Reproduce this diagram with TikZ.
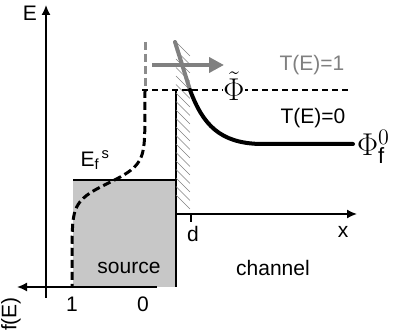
\documentclass[tikz,border=0pt]{standalone}
\usepackage{fix-cm}
\usepackage{fontspec}
\setmainfont{Liberation Sans}
\usetikzlibrary{arrows.meta,positioning}

\begin{document}
\begin{tikzpicture}[
  x=1pt, y=-1pt,
  font=\fontsize{21}{25}\selectfont,
  >=Latex,
  axis/.style={->, line width=1.6pt, >={Latex[length=10pt,width=9pt]}},
  edge/.style={line width=1.6pt},
  hatch/.style={line width=0.5pt, black!50},
  level/.style={line width=1.2pt, dash pattern=on 6pt off 4pt},
  fermi/.style={line width=3pt, dash pattern=on 8pt off 4pt},
  fermitop/.style={fermi, black!45},
  barrier/.style={line width=4pt, line cap=round},
  greyarrow/.style={-{Triangle[length=15pt,width=15pt]}, line width=4pt, black!50},
  lbl/.style={inner sep=1pt}
]
\useasboundingbox (0,0) rectangle (399,336);

% points of the band diagram
\coordinate (Etop) at (46,5);
\coordinate (Ebot) at (46,298);
\coordinate (fleft) at (17,287);
\coordinate (fright) at (157,287);
\coordinate (srcTL) at (73,180);
\coordinate (srcBR) at (176,287);
\coordinate (wallTop) at (176,90);
\coordinate (xstart) at (176,214);
\coordinate (xend) at (357,214);
\coordinate (dtick) at (191,214);
\coordinate (dtickEnd) at (191,222);
\coordinate (levelL) at (142,90);
\coordinate (levelR) at (348,90);
\coordinate (peak) at (175,42);
\coordinate (knee) at (190,90);
\coordinate (flat) at (260,144);
\coordinate (tail) at (353,144);
\coordinate (arrS) at (152,65);
\coordinate (arrE) at (224,65);
\coordinate (fTop) at (145,42);
\coordinate (fMid) at (145,90);

% source contact
\fill[black!22] (srcTL) rectangle (srcBR);
\draw[edge] (srcTL) -- (srcTL -| srcBR);
\draw[edge] (wallTop) -- (srcBR);

% hatched barrier region
\foreach \y in {42,50.5,...,202}
  \draw[hatch] (176,\y) -- ++(14,14);

% axes
\draw[axis] (Ebot) -- (Etop);
\draw[axis] (fright) -- (fleft);
\draw[axis] (xstart) -- (xend);
\draw[edge] (dtick) -- (dtickEnd);

% levels
\draw[level] (levelL) -- (levelR);

% Fermi function
\draw[fermitop] (fTop) -- (fMid);
\draw[fermi] (fMid) -- plot[domain=106:287, samples=80]
  ({145-73/(1+exp((183-\x)/9))},\x);

% barrier profile
\draw[barrier, black!50] (peak) -- (knee);
\draw[barrier] (knee) .. controls (203,125) and (220,143) .. (flat) -- (tail);
\draw[greyarrow] (arrS) -- (arrE);

% labels
\node[lbl] (labE) at (30,13) {E};
\node[lbl, rotate=90] (labF) at (11,314) {f(E)};
\node[lbl] (lab1) at (72,304) {1};
\node[lbl] (lab0) at (143,304) {0};
\node[lbl] (labSrc) at (129,268) {source};
\node[lbl] (labCh) at (273,268) {channel};
\node[lbl] (labD) at (193,234) {d};
\node[lbl] (labX) at (343,232) {x};
\node[lbl] (labEf) at (95,160) {E\textsubscript{f}\textsuperscript{\,s}};
\node[lbl, fill=white, inner sep=0pt] (labPhi) at (234,86) {\scalebox{1.5}{$\tilde{\Phi}$}};
\node[lbl, text=black!50] (labT1) at (312,65) {T(E)=1};
\node[lbl] (labT0) at (313,118) {T(E)=0};
\node[lbl, right=3pt of tail, yshift=-3pt] (labPhi0) {\scalebox{1.5}{$\Phi_{\mathrm{f}}^{0}$}};
\end{tikzpicture}
\end{document}
